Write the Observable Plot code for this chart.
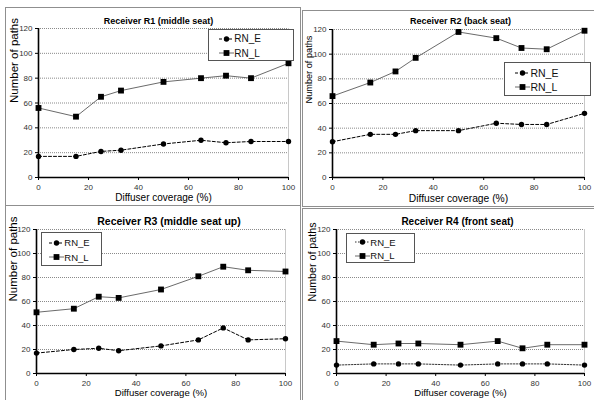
<!DOCTYPE html>
<html><head><meta charset="utf-8">
<script src="https://cdn.jsdelivr.net/npm/d3@7"></script>
<script src="https://cdn.jsdelivr.net/npm/@observablehq/plot@0.6"></script>
<style>
body{margin:0;background:#fff;}
#c{position:relative;width:594px;height:400px;overflow:hidden;background:#fff;font-family:"Liberation Sans",Arial,sans-serif;}
.box{position:absolute;box-sizing:border-box;border:1.5px solid #8f8f8f;}
.clip{position:absolute;overflow:hidden;}
.clip svg{display:block;}
.legend{position:absolute;box-sizing:border-box;border:1px solid #555;background:#fff;}
.legend .row{position:absolute;left:0;height:12px;display:flex;align-items:center;color:#111;}
.legend svg{display:block;}
</style></head>
<body><div id="c"></div>
<script>
// ---- data ----
const coverage = [0, 15, 25, 33, 50, 65, 75, 85, 100];
const seriesNames = ["RN_E", "RN_L"];
const titles = ["Receiver R1 (middle seat)", "Receiver R2 (back seat)", "Receiver R3 (middle seat up)", "Receiver R4 (front seat)"];
const r1E = [17, 17, 21, 22, 27, 30, 28, 29, 29];
const r1L = [56, 49, 65, 70, 77, 80, 82, 80, 92];
const r2E = [29, 35, 35, 38, 38, 44, 43, 43, 52];
const r2L = [66, 77, 86, 97, 118, 113, 105, 104, 119];
const r3E = [17, 20, 21, 19, 23, 28, 38, 28, 29];
const r3L = [51, 54, 64, 63, 70, 81, 89, 86, 85];
const r4E = [7, 8, 8, 8, 7, 8, 8, 8, 7];
const r4L = [27, 24, 25, 25, 24, 27, 21, 24, 24];
const xTicks = [0, 20, 40, 60, 80, 100];
const yTicks = [0, 20, 40, 60, 80, 100, 120];
const xLabel = "Diffuser coverage (%)";
const yLabel = "Number of paths";

// ---- layout (page coordinates) ----
const panels = [
  {E: r1E, L: r1L, box: [5, 7, 296, 199], svg: [5, 7, 295, 198], m: [21, 12, 28, 33],
   tf: 9, tdx: -5, tdy: -11, yf: 11.5, ylx: 14, xf: 10, xly: 200, kf: 8, eDash: "3,2", eStroke: "#000",
   lg: [208, 29, 86, 32], lgf: 10},
  {E: r2E, L: r2L, box: [302, 10, 300, 197], svg: [302, 10, 292, 196], m: [19, 10, 29, 30],
   tf: 9, tdx: 2, tdy: -12, yf: 9.2, ylx: 309, xf: 10.3, xly: 201, kf: 8, eDash: "3,2", eStroke: "#000",
   lg: [504, 62, 87, 34], lgf: 10.5},
  {E: r3E, L: r3L, box: [5, 205, 296, 200], svg: [5, 206, 295, 194], m: [23, 15, 27, 31],
   tf: 10.5, tdx: 8, tdy: -12, yf: 11.5, ylx: 13, xf: 9.6, xly: 395, kf: 8, eDash: "3,2", eStroke: "#000",
   lg: [41, 232, 61, 34], lgf: 9.5},
  {E: r4E, L: r4L, box: [302, 208, 300, 200], svg: [302, 208, 292, 192], m: [21, 10, 27, 34],
   tf: 10, tdx: -3, tdy: -12, yf: 10.7, ylx: 312, xf: 9.6, xly: 395, kf: 8, eDash: "1.5,1.5", eStroke: "#333",
   lg: [346, 233, 69, 30], lgf: 9.5}
];

const root = document.getElementById("c");

panels.forEach((p, i) => {
  const rowsE = coverage.map((x, j) => ({x, y: p.E[j], series: seriesNames[0]}));
  const rowsL = coverage.map((x, j) => ({x, y: p.L[j], series: seriesNames[1]}));
  const [mt, mr, mb, ml] = p.m;
  const [sx, sy, sw, sh] = p.svg;
  const chart = Plot.plot({
    width: sw, height: sh,
    marginTop: mt, marginRight: mr, marginBottom: mb, marginLeft: ml,
    style: {fontFamily: '"Liberation Sans", Arial, sans-serif', background: "transparent", color: "#222"},
    x: {domain: [0, 100]},
    y: {domain: [0, 120]},
    marks: [
      Plot.gridY(yTicks.filter(d => d > 0), {stroke: "#8a8a8a", strokeOpacity: 1, strokeDasharray: "1,1"}),
      Plot.ruleX([100], {stroke: "#c8c8c8"}),
      Plot.axisX({ticks: xTicks, tickSize: 3, tickPadding: 3.5, fontSize: p.kf, label: null, stroke: "#000", fill: "#333"}),
      Plot.axisY({ticks: yTicks, tickSize: 3, tickPadding: 3, fontSize: p.kf, label: null, stroke: "#000", fill: "#333"}),
      Plot.ruleX([0], {stroke: "#000", strokeWidth: 1.6}),
      Plot.ruleY([0], {stroke: "#000", strokeWidth: 1.6}),
      Plot.line(rowsL, {x: "x", y: "y", stroke: "#444", strokeWidth: 0.8}),
      Plot.line(rowsE, {x: "x", y: "y", stroke: p.eStroke, strokeWidth: 1, strokeDasharray: p.eDash}),
      Plot.dot(rowsL, {x: "x", y: "y", symbol: "square", r: 3.3, fill: "#000", stroke: null}),
      Plot.dot(rowsE, {x: "x", y: "y", symbol: "circle", r: 2.7, fill: "#000", stroke: null}),
      Plot.text([titles[i]], {frameAnchor: "top", dx: p.tdx, dy: p.tdy, fontWeight: "bold", fontSize: p.tf, fill: "#000"}),
      Plot.text([yLabel], {frameAnchor: "left", rotate: -90, dx: (p.ylx - sx) - ml, fontSize: p.yf, fill: "#000"}),
      Plot.text([xLabel], {frameAnchor: "bottom", dy: (p.xly - sy) - (sh - mb), fontSize: p.xf, fill: "#000"})
    ]
  });
  const clip = document.createElement("div");
  clip.className = "clip";
  Object.assign(clip.style, {left: sx + "px", top: sy + "px", width: sw + "px", height: sh + "px"});
  clip.appendChild(chart);
  root.appendChild(clip);

  const box = document.createElement("div");
  box.className = "box";
  Object.assign(box.style, {left: p.box[0] + "px", top: p.box[1] + "px", width: p.box[2] + "px", height: p.box[3] + "px"});
  root.appendChild(box);

  // legend
  const [lx, ly, lw, lh] = p.lg;
  const lg = document.createElement("div");
  lg.className = "legend";
  Object.assign(lg.style, {left: lx + "px", top: ly + "px", width: lw + "px", height: lh + "px"});
  seriesNames.forEach((name, k) => {
    const row = document.createElement("div");
    row.className = "row";
    row.style.top = (k === 0 ? lh * 0.28 - 6 : lh * 0.72 - 6) + "px";
    row.style.left = (lw * 0.12) + "px";
    row.style.fontSize = p.lgf + "px";
    const isE = k === 0;
    const dash = isE ? p.eDash : "none";
    const stroke = isE ? p.eStroke : "#444";
    const marker = isE
      ? `<circle cx="7.5" cy="6" r="2.7" fill="#000"/>`
      : `<rect x="4.6" y="3.1" width="5.8" height="5.8" fill="#000"/>`;
    row.innerHTML = `<svg width="15" height="12"><line x1="0" x2="15" y1="6" y2="6" stroke="${stroke}" stroke-width="${isE ? 1 : 0.8}" stroke-dasharray="${dash}"/>${marker}</svg><span>${name}</span>`;
    lg.appendChild(row);
  });
  root.appendChild(lg);
});
</script>
</body></html>
